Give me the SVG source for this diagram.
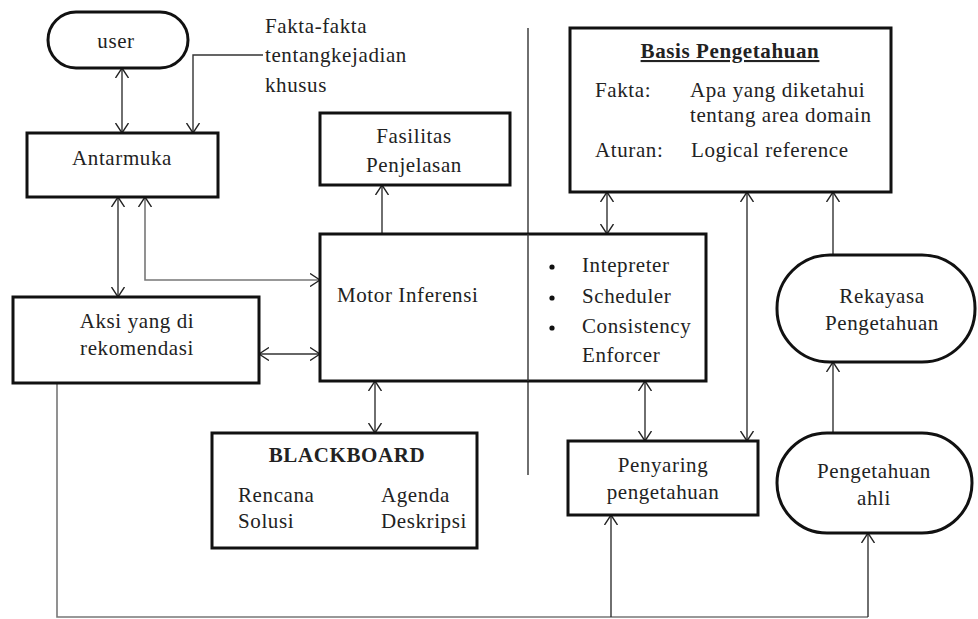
<svg xmlns="http://www.w3.org/2000/svg" width="978" height="619" viewBox="0 0 978 619">
  <style>
    .box { fill: #fff; stroke: #111; stroke-width: 3; }
    .t { font-family: "Liberation Serif", "Times New Roman", serif; font-size: 21px; fill: #222; letter-spacing: 0.6px; }
    .c { text-anchor: middle; }
    .b { font-weight: bold; }
    .ln { fill: none; stroke: #333; stroke-width: 1.4; }
    .grey { stroke: #777; stroke-width: 1.6; }
  </style>
  <defs>
    <marker id="arr" viewBox="0 0 10 14" refX="10" refY="7" markerWidth="10" markerHeight="14" markerUnits="userSpaceOnUse" orient="auto-start-reverse">
      <path d="M0,0.5 L10,7 L0,13.5" fill="none" stroke="#222" stroke-width="1.4"/>
    </marker>
  </defs>
  <rect width="978" height="619" fill="#fff"/>

  <!-- connectors -->
  <g id="connectors">
    <line class="ln" x1="528" y1="28" x2="528" y2="475"/>
    <line class="ln" x1="122" y1="68" x2="122" y2="133" marker-start="url(#arr)" marker-end="url(#arr)"/>
    <polyline class="ln" points="263,55 193,55 193,133" marker-end="url(#arr)"/>
    <line class="ln" x1="118" y1="197" x2="118" y2="297" marker-start="url(#arr)" marker-end="url(#arr)"/>
    <polyline class="ln grey" points="145,197 145,280 320,280" marker-start="url(#arr)" marker-end="url(#arr)"/>
    <line class="ln" x1="259" y1="354" x2="320" y2="354" marker-start="url(#arr)" marker-end="url(#arr)"/>
    <line class="ln" x1="382" y1="234" x2="382" y2="185" marker-end="url(#arr)"/>
    <line class="ln" x1="375" y1="381" x2="375" y2="433" marker-start="url(#arr)" marker-end="url(#arr)"/>
    <line class="ln" x1="607" y1="192" x2="607" y2="234" marker-start="url(#arr)" marker-end="url(#arr)"/>
    <line class="ln" x1="645" y1="381" x2="645" y2="441" marker-start="url(#arr)" marker-end="url(#arr)"/>
    <line class="ln" x1="747" y1="192" x2="747" y2="441" marker-start="url(#arr)" marker-end="url(#arr)"/>
    <line class="ln" x1="833" y1="255" x2="833" y2="192" marker-end="url(#arr)"/>
    <line class="ln" x1="833" y1="433" x2="833" y2="362" marker-end="url(#arr)"/>
    <polyline class="ln grey" points="57,383 57,617 868,617"/>
    <line class="ln" x1="611" y1="617" x2="611" y2="515" marker-end="url(#arr)"/>
    <line class="ln" x1="868" y1="617" x2="868" y2="533" marker-end="url(#arr)"/>
  </g>

  <g id="user">
    <rect class="box" x="48" y="12" width="140" height="56" rx="28"/>
    <text class="t c" x="116" y="48">user</text>
  </g>

  <g id="fakta-label">
    <text class="t" x="265" y="33">Fakta-fakta</text>
    <text class="t" x="265" y="62">tentangkejadian</text>
    <text class="t" x="265" y="92">khusus</text>
  </g>

  <g id="antarmuka">
    <rect class="box" x="27" y="133" width="191" height="64"/>
    <text class="t c" x="122" y="165">Antarmuka</text>
  </g>

  <g id="fasilitas">
    <rect class="box" x="320" y="113" width="190" height="72"/>
    <text class="t c" x="414" y="143">Fasilitas</text>
    <text class="t c" x="414" y="172">Penjelasan</text>
  </g>

  <g id="basis">
    <rect class="box" x="570" y="28" width="321" height="164"/>
    <text class="t c b" x="730" y="58" text-decoration="underline">Basis Pengetahuan</text>
    <text class="t" x="595" y="97">Fakta:</text>
    <text class="t" x="690" y="97">Apa yang diketahui</text>
    <text class="t" x="690" y="122">tentang area domain</text>
    <text class="t" x="595" y="157">Aturan:</text>
    <text class="t" x="691" y="157">Logical reference</text>
  </g>

  <g id="motor">
    <rect class="box" x="320" y="234" width="386" height="147"/>
    <line class="ln" x1="528" y1="234" x2="528" y2="381"/>
    <text class="t" x="337" y="302">Motor Inferensi</text>
    <circle cx="552" cy="267" r="2.6" fill="#111"/>
    <circle cx="552" cy="298" r="2.6" fill="#111"/>
    <circle cx="552" cy="328" r="2.6" fill="#111"/>
    <text class="t" x="582" y="272">Intepreter</text>
    <text class="t" x="582" y="303">Scheduler</text>
    <text class="t" x="582" y="333">Consistency</text>
    <text class="t" x="582" y="362">Enforcer</text>
  </g>

  <g id="aksi">
    <rect class="box" x="13" y="297" width="246" height="86"/>
    <text class="t c" x="137" y="328">Aksi yang di</text>
    <text class="t c" x="137" y="355">rekomendasi</text>
  </g>

  <g id="blackboard">
    <rect class="box" x="212" y="433" width="265" height="115"/>
    <text class="t c b" x="347" y="462">BLACKBOARD</text>
    <text class="t" x="238" y="502">Rencana</text>
    <text class="t" x="238" y="528">Solusi</text>
    <text class="t" x="381" y="502">Agenda</text>
    <text class="t" x="381" y="528">Deskripsi</text>
  </g>

  <g id="penyaring">
    <rect class="box" x="568" y="441" width="190" height="74"/>
    <text class="t c" x="663" y="472">Penyaring</text>
    <text class="t c" x="663" y="499">pengetahuan</text>
  </g>

  <g id="rekayasa">
    <rect class="box" x="777" y="255" width="198" height="107" rx="53"/>
    <text class="t c" x="882" y="303">Rekayasa</text>
    <text class="t c" x="882" y="330">Pengetahuan</text>
  </g>

  <g id="ahli">
    <rect class="box" x="777" y="433" width="195" height="100" rx="50"/>
    <text class="t c" x="874" y="478">Pengetahuan</text>
    <text class="t c" x="874" y="505">ahli</text>
  </g>
</svg>
